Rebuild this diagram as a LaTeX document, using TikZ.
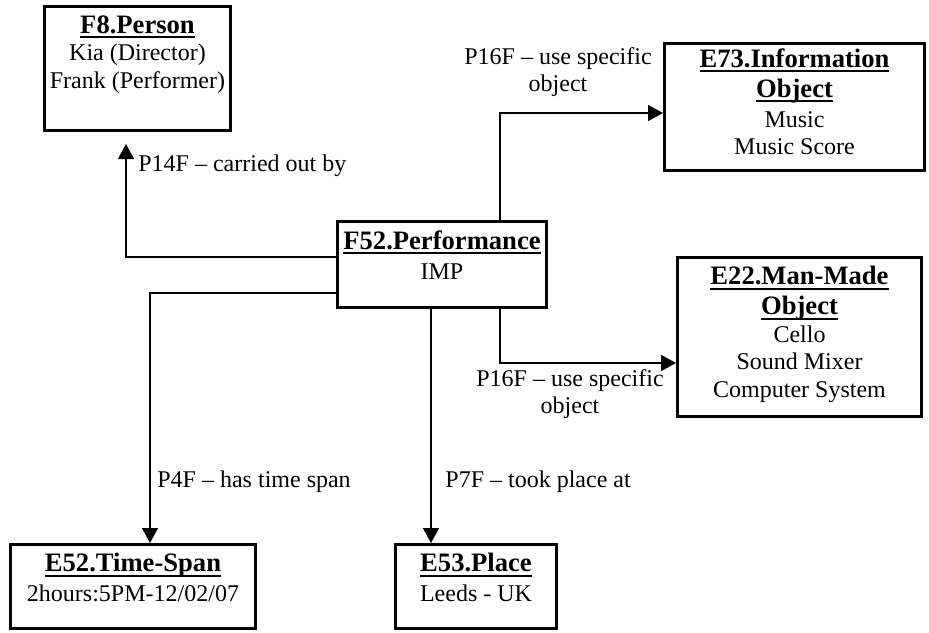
\documentclass[tikz,border=0pt]{standalone}
\usepackage{fontspec}
\setmainfont{Liberation Serif}
\usetikzlibrary{arrows.meta,positioning}

\newcommand{\boxtitle}[1]{{\fontsize{13.3}{13.75}\selectfont\bfseries
  \setbox0\hbox{#1}\rlap{\rule[-2.4pt]{\wd0}{0.9pt}}\box0}}

\tikzset{
  entity/.style={draw, line width=1.4pt, anchor=north west, inner sep=0pt},
  intext/.style={anchor=north, inner sep=0pt, yshift=-5pt, align=center},
  conn/.style={line width=0.7pt, -{Triangle[length=7.5pt,width=8pt]}},
  rel/.style={inner sep=0pt, align=center},
}

\begin{document}
\begin{tikzpicture}[x=0.5pt,y=-0.5pt,font=\fontsize{12}{13.75}\selectfont]
\useasboundingbox (0,0) rectangle (929,632);

% classes
\node[entity, minimum width=93.1pt, minimum height=62.1pt,
  label={[intext]north:{\boxtitle{F8.Person}\\ Kia (Director)\\ Frank (Performer)}}] (F8) at (43,5) {};
\node[entity, minimum width=130.1pt, minimum height=63.6pt,
  label={[intext,yshift=2pt]north:{\boxtitle{E73.Information}\\[1.25pt] \boxtitle{Object}\\[1.25pt] Music\\ Music Score}}] (E73) at (663,42) {};
\node[entity, minimum width=104.6pt, minimum height=43.1pt,
  label={[intext]north:{\boxtitle{F52.Performance}\\[1.25pt] IMP}}] (F52) at (336,220) {};
\node[entity, minimum width=122.1pt, minimum height=79.6pt,
  label={[intext]north:{\boxtitle{E22.Man-Made}\\[1.25pt] \boxtitle{Object}\\ Cello\\ Sound Mixer\\ Computer System}}] (E22) at (676,256) {};
\node[entity, minimum width=122.6pt, minimum height=42.1pt,
  label={[intext]north:{\boxtitle{E52.Time-Span}\\[1.25pt] 2hours:5PM-12/02/07}}] (E52) at (9,543) {};
\node[entity, minimum width=80.6pt, minimum height=42.1pt,
  label={[intext]north:{\boxtitle{E53.Place}\\[1.25pt] Leeds - UK}}] (E53) at (394,543) {};

% properties
\coordinate (p14) at ([xshift=-5.75pt,yshift=-6pt]F8.south);
\draw[conn] ([yshift=3.75pt]F52.west) -| (p14);
\draw[conn] ([xshift=29pt]F52.north) |- ([yshift=-3pt]E73.west);
\draw[conn] ([xshift=29pt]F52.south) |- ([yshift=-13pt]E22.west);
\draw[conn] ([yshift=-14.25pt]F52.west) -| ([xshift=8.5pt]E52.north);
\draw[conn] ([xshift=-5.5pt]F52.south) -- ([xshift=-5.5pt]F52.south |- E53.north);

\node[rel, anchor=north] (l16a) at (558,47) {P16F -- use specific\\ object};
\node[rel, anchor=base west] (l14) at (138,171) {P14F -- carried out by};
\node[rel, anchor=north] (l16b) at (570,369) {P16F -- use specific\\ object};
\node[rel, anchor=base west] (l4) at (157,487) {P4F -- has time span};
\node[rel, anchor=base west] (l7) at (445,487) {P7F -- took place at};
\end{tikzpicture}
\end{document}
